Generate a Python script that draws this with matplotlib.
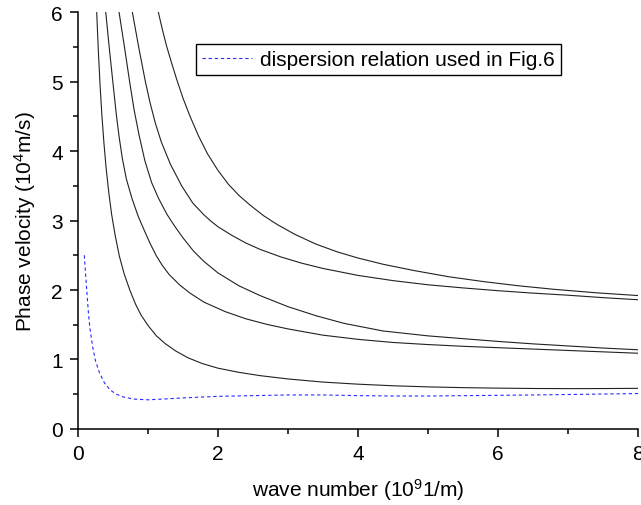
import matplotlib
matplotlib.use('Agg')
import matplotlib.pyplot as plt
from matplotlib.ticker import MultipleLocator

plt.rcParams['font.family'] = ['Liberation Sans', 'DejaVu Sans']
plt.rcParams['mathtext.default'] = 'regular'

# curves (wave number 10^9 1/m, phase velocity 10^4 m/s)
k1 = [0.267, 0.29, 0.315, 0.34, 0.37, 0.40, 0.44, 0.48, 0.53, 0.59, 0.66, 0.74, 0.82, 0.90, 1.0,
      1.12, 1.25, 1.40, 1.57, 1.78, 2.0, 2.3, 2.6, 3.0, 3.5, 4.0, 4.5, 5.0, 5.5, 6.0, 6.5, 7.0, 7.5, 8.0]
v1 = [6.00, 5.45, 4.95, 4.53, 4.12, 3.77, 3.40, 3.09, 2.79, 2.49, 2.23, 2.00, 1.80, 1.64, 1.49,
      1.34, 1.225, 1.12, 1.025, 0.94, 0.875, 0.815, 0.768, 0.72, 0.675, 0.645, 0.622, 0.606, 0.595,
      0.588, 0.583, 0.581, 0.582, 0.585]

k2 = [0.396, 0.445, 0.497, 0.550, 0.588, 0.632, 0.69, 0.77, 0.86, 0.95, 1.03, 1.12, 1.20, 1.30, 1.45,
      1.6, 1.8, 2.1, 2.4, 2.7, 3.0, 3.5, 4.0, 4.5, 5.0, 5.5, 6.0, 6.5, 7.0, 7.5, 8.0]
v2 = [6.0, 5.5, 5.0, 4.5, 4.2, 3.9, 3.6, 3.32, 3.06, 2.85, 2.67, 2.49, 2.36, 2.225, 2.075,
      1.955, 1.825, 1.69, 1.585, 1.505, 1.44, 1.35, 1.29, 1.245, 1.215, 1.19, 1.17, 1.15, 1.13, 1.11, 1.09]

k3 = [0.586, 0.663, 0.70, 0.737, 0.80, 0.87, 0.955, 1.05, 1.15, 1.27, 1.38, 1.5, 1.65, 1.8, 2.0,
      2.3, 2.6, 3.0, 3.4, 3.8, 4.36, 5.0, 5.5, 6.0, 6.5, 7.0, 7.5, 8.0]
v3 = [6.0, 5.5, 5.25, 5.0, 4.6, 4.24, 3.86, 3.55, 3.32, 3.09, 2.92, 2.75, 2.56, 2.41, 2.245,
      2.06, 1.92, 1.76, 1.63, 1.52, 1.41, 1.34, 1.30, 1.26, 1.225, 1.195, 1.165, 1.14]

k4 = [0.776, 0.866, 0.962, 1.028, 1.105, 1.19, 1.32, 1.48, 1.64, 1.80, 1.9, 2.0, 2.2, 2.4, 2.6,
      2.9, 3.2, 3.5, 4.0, 4.5, 5.0, 5.5, 6.0, 6.5, 7.0, 7.5, 8.0]
v4 = [6.0, 5.5, 5.0, 4.7, 4.4, 4.13, 3.81, 3.5, 3.25, 3.08, 2.99, 2.91, 2.785, 2.675, 2.585,
      2.475, 2.385, 2.31, 2.21, 2.135, 2.075, 2.03, 1.99, 1.955, 1.925, 1.89, 1.86]

k5 = [1.147, 1.2, 1.26, 1.33, 1.41, 1.50, 1.60, 1.72, 1.85, 2.0, 2.15, 2.3, 2.46, 2.65, 2.85,
      3.1, 3.4, 3.7, 4.0, 4.36, 4.8, 5.3, 5.8, 6.3, 6.8, 7.4, 8.0]
v5 = [6.0, 5.77, 5.53, 5.29, 5.03, 4.76, 4.50, 4.22, 3.96, 3.72, 3.52, 3.36, 3.22, 3.07, 2.94,
      2.80, 2.66, 2.55, 2.46, 2.37, 2.28, 2.19, 2.12, 2.06, 2.01, 1.96, 1.92]

# dispersion relation used in Fig.6
kd = [0.09, 0.11, 0.125, 0.15, 0.17, 0.21, 0.25, 0.31, 0.38, 0.46, 0.55, 0.65, 0.80, 1.0, 1.2,
      1.55, 2.0, 2.5, 3.0, 3.5, 4.0, 4.5, 5.0, 5.55, 6.5, 7.3, 8.0]
vd = [2.50, 2.2, 2.0, 1.65, 1.45, 1.18, 0.98, 0.80, 0.66, 0.56, 0.50, 0.46, 0.43, 0.42, 0.43,
      0.45, 0.47, 0.48, 0.49, 0.49, 0.48, 0.475, 0.475, 0.48, 0.49, 0.50, 0.51]

fig = plt.figure(figsize=(6.41, 5.06), dpi=100)
ax = fig.add_axes([0.1217, 0.1502, 0.8736, 0.8241])

for k, v in [(k1, v1), (k2, v2), (k3, v3), (k4, v4), (k5, v5)]:
    ax.plot(k, v, color='#222222', lw=0.8)
ax.plot(kd, vd, color='#2a2aff', lw=0.8, dashes=(3, 2.5),
        label='dispersion relation used in Fig.6')

ax.set_xlim(0, 8)
ax.set_ylim(0, 6)
ax.xaxis.set_major_locator(MultipleLocator(2))
ax.xaxis.set_minor_locator(MultipleLocator(1))
ax.yaxis.set_major_locator(MultipleLocator(1))
ax.yaxis.set_minor_locator(MultipleLocator(0.5))
ax.tick_params(which='major', direction='out', length=6, width=1.1, labelsize=15, pad=5)
ax.tick_params(which='minor', direction='out', length=3.5, width=1.1)

for s in ['top', 'right']:
    ax.spines[s].set_visible(False)
for s in ['left', 'bottom']:
    ax.spines[s].set_linewidth(1.1)

ax.set_xlabel('wave number (10$^9$1/m)', fontsize=15, labelpad=9)
ax.set_ylabel('Phase velocity (10$^4$m/s)', fontsize=15, labelpad=9)

leg = ax.legend(loc='upper left', bbox_to_anchor=(0.2107, 0.9233), borderaxespad=0,
                fontsize=15, fancybox=False, edgecolor='black', framealpha=1,
                handlelength=2.4, handletextpad=0.35, borderpad=0.3)
leg.get_frame().set_linewidth(1.0)

fig.savefig('out.png', dpi=100)
